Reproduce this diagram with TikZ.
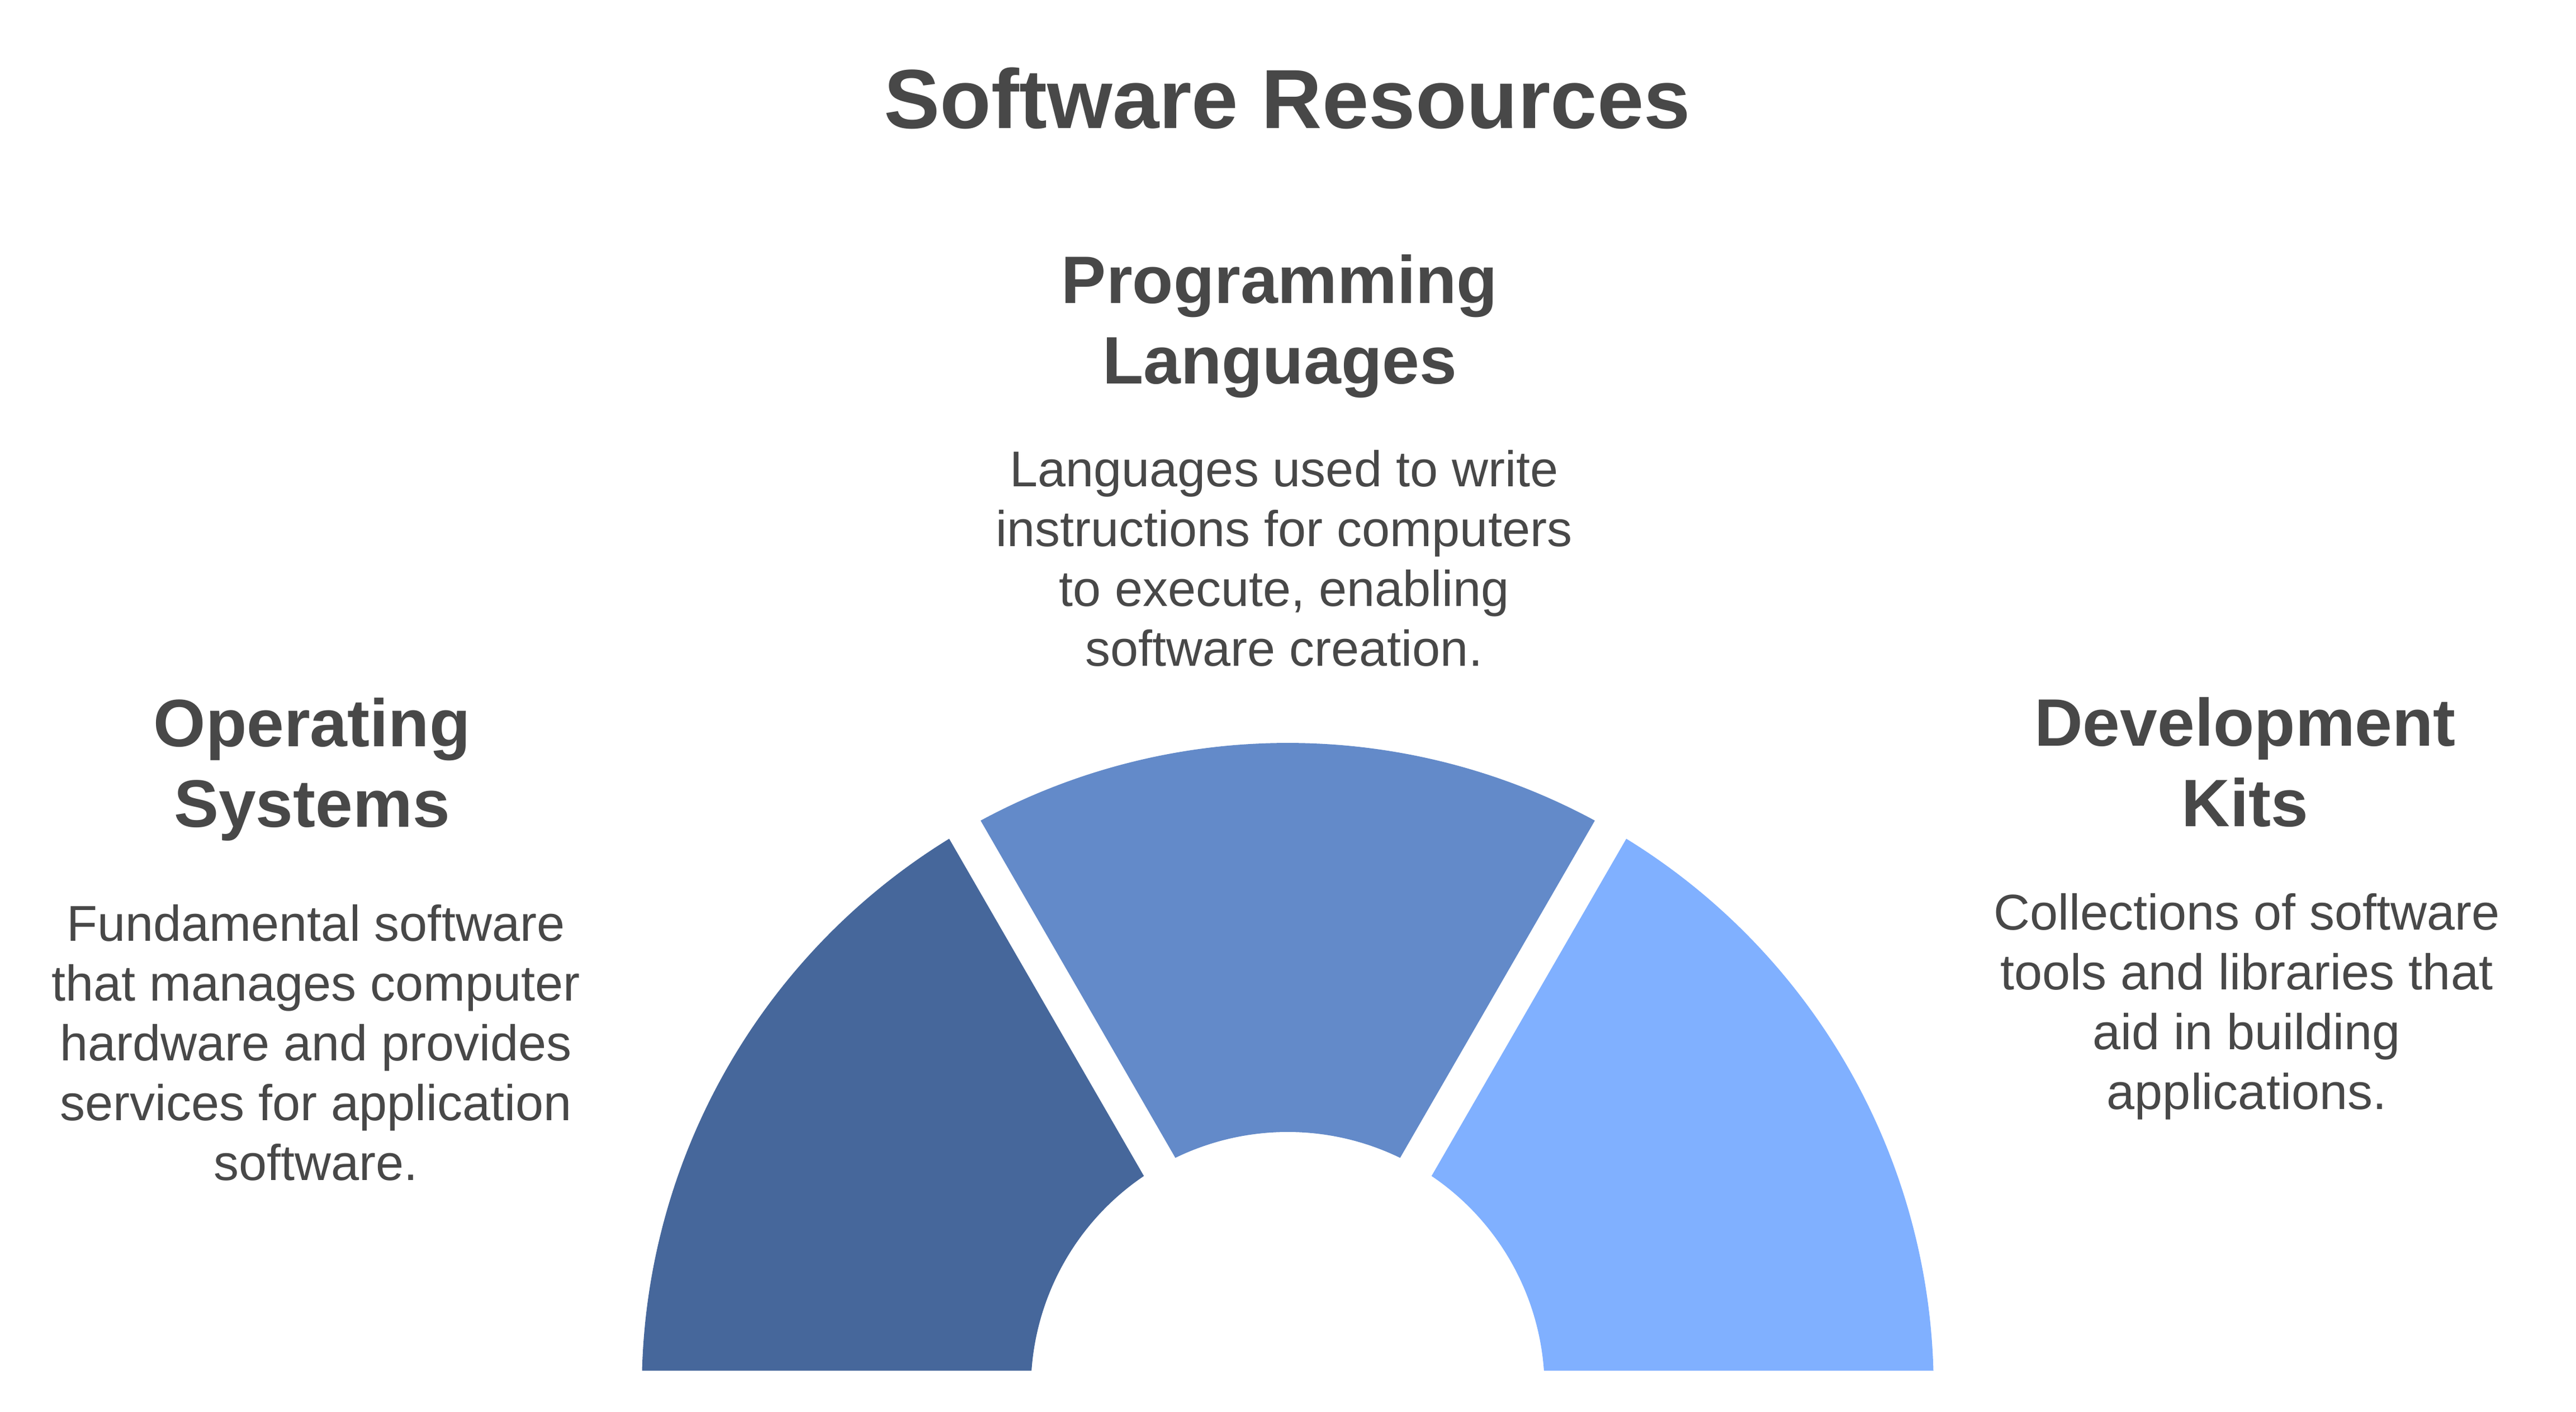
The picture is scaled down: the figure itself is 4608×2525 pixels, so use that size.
\documentclass[tikz,border=0pt]{standalone}
\usepackage{fontspec}
\setmainfont{Liberation Sans}
\definecolor{txtgray}{HTML}{484848}
\definecolor{segdark}{HTML}{46679B}
\definecolor{segmid}{HTML}{638AC9}
\definecolor{seglight}{HTML}{80B0FF}
\tikzset{
  headtxt/.style={anchor=base, inner sep=0pt, text=txtgray, font=\fontsize{120}{144}\selectfont\bfseries},
  bodytxt/.style={anchor=base, inner sep=0pt, text=txtgray, font=\fontsize{90}{107}\selectfont},
  titletxt/.style={anchor=base, inner sep=0pt, text=txtgray, font=\fontsize{150}{180}\selectfont\bfseries},
}
\begin{document}
\begin{tikzpicture}[x=1pt,y=1pt]
\useasboundingbox (0,0) rectangle (4608,2525);
\fill[white] (0,0) rectangle (4608,2525);
\pgfmathsetmacro\Ro{1155.5}
\pgfmathsetmacro\Ri{459.5}
\pgfmathsetmacro\ao{asin(32.5/1155.5)}
\pgfmathsetmacro\ai{asin(32.5/459.5)}
\pgfmathsetmacro\aA{\ao}\pgfmathsetmacro\aB{60-\ao}
\pgfmathsetmacro\iA{\ai}\pgfmathsetmacro\iB{60-\ai}
\pgfmathsetmacro\aC{60+\ao}\pgfmathsetmacro\aD{120-\ao}
\pgfmathsetmacro\iC{60+\ai}\pgfmathsetmacro\iD{120-\ai}
\pgfmathsetmacro\aE{120+\ao}\pgfmathsetmacro\aF{180-\ao}
\pgfmathsetmacro\iE{120+\ai}\pgfmathsetmacro\iF{180-\ai}
\coordinate (C) at (2303.5,40.5);
\begin{scope}[shift={(C)}]
  \fill[seglight] (\aA:\Ro) arc[start angle=\aA, end angle=\aB, radius=\Ro]
     -- (\iB:\Ri) arc[start angle=\iB, end angle=\iA, radius=\Ri] -- cycle;
  \fill[segmid] (\aC:\Ro) arc[start angle=\aC, end angle=\aD, radius=\Ro]
     -- (\iD:\Ri) arc[start angle=\iD, end angle=\iC, radius=\Ri] -- cycle;
  \fill[segdark] (\aE:\Ro) arc[start angle=\aE, end angle=\aF, radius=\Ro]
     -- (\iF:\Ri) arc[start angle=\iF, end angle=\iE, radius=\Ri] -- cycle;
\end{scope}
\node[titletxt] (title) at (2303,2295) {Software Resources};
\node[headtxt] (plH) at (2289,1982) {\begin{tabular}[t]{@{}c@{}}Programming\\Languages\end{tabular}};
\node[bodytxt] (plB) at (2297,1654) {\begin{tabular}[t]{@{}c@{}}Languages used to write\\instructions for computers\\to execute, enabling\\software creation.\end{tabular}};
\node[headtxt] (osH) at (558,1189) {\begin{tabular}[t]{@{}c@{}}Operating\\Systems\end{tabular}};
\node[bodytxt] (osB) at (565,841) {\begin{tabular}[t]{@{}c@{}}Fundamental software\\that manages computer\\hardware and provides\\services for application\\software.\end{tabular}};
\node[headtxt] (dkH) at (4016,1190.5) {\begin{tabular}[t]{@{}c@{}}Development\\Kits\end{tabular}};
\node[bodytxt] (dkB) at (4019,861) {\begin{tabular}[t]{@{}c@{}}Collections of software\\tools and libraries that\\aid in building\\applications.\end{tabular}};
\end{tikzpicture}
\end{document}
